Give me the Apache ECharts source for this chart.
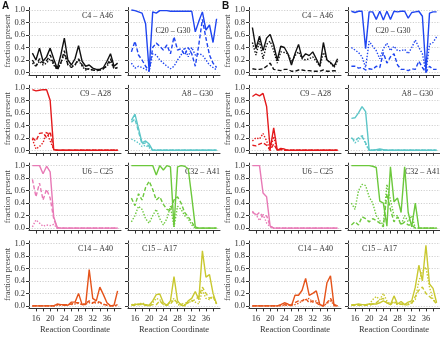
<!DOCTYPE html>
<html lang="en">
<head>
<meta charset="UTF-8">
<title>fraction present</title>
<script src="https://cdn.jsdelivr.net/npm/echarts@6/dist/echarts.min.js"></script>
<style>
  *{margin:0;padding:0;}
  body{background:#fff;}
  #chart{width:440px;height:337px;}
</style>
</head>
<body>
<div id="chart"></div>
<script>
// x positions (reaction coordinate) and tick values
var reactionCoord = [15,16,17,18,19,20,21,22,23,24,25,26,27,28,29,30,31,32,33,34,35,36,37,38,39];
var xTicks = [16,18,20,22,24,26,28,30,32,34,36,38];
var xTickLabels = [16,20,24,28,32,36];
var yTicks = [0,0.2,0.4,0.6,0.8,1.0];

var pairNames = ['C4 – A46','C20 – G30','C9 – A28','A8 – G30','U6 – C25','C32 – A41','C14 – A40','C15 – A17'];
var pairColors = ['#111111','#1f45f0','#e31a1c','#5dc6c8','#e87ab6','#6cc83c','#e5541b','#c9c830'];

// ---- panel A ----
var aC4A46Solid  = [0.31,0.20,0.39,0.18,0.25,0.39,0.22,0.06,0.28,0.55,0.20,0.12,0.22,0.43,0.18,0.10,0.12,0.07,0.05,0.05,0.08,0.18,0.30,0.10,0.15];
var aC4A46Dashed = [0.20,0.10,0.22,0.15,0.19,0.28,0.15,0.04,0.15,0.35,0.12,0.08,0.12,0.22,0.12,0.06,0.05,0.04,0.03,0.04,0.06,0.12,0.22,0.06,0.08];
var aC4A46Dotted = [0.15,0.10,0.18,0.12,0.15,0.22,0.12,0.05,0.15,0.30,0.12,0.10,0.12,0.20,0.10,0.04,0.06,0.04,0.03,0.04,0.06,0.10,0.18,0.06,0.08];

var aC20G30Solid  = [1.00,0.99,0.97,0.95,0.78,0.02,0.97,0.95,0.99,0.99,0.99,0.98,0.98,0.98,0.98,0.98,0.98,0.98,0.65,0.82,0.97,0.68,0.76,0.48,0.86];
var aC20G30Dashed = [0.33,0.50,0.28,0.20,0.10,0.02,0.40,0.47,0.42,0.36,0.44,0.30,0.57,0.36,0.38,0.28,0.40,0.30,0.10,0.45,0.85,0.55,0.28,0.15,0.08];
var aC20G30Dotted = [0.15,0.07,0.10,0.08,0.05,0.02,0.30,0.28,0.20,0.15,0.10,0.06,0.10,0.20,0.28,0.40,0.25,0.40,0.28,0.30,0.28,0.20,0.12,0.08,0.04];

var aC9A28Solid  = [0.97,0.95,0.96,0.97,0.97,0.80,0.01,0,0,0,0,0,0,0,0,0,0,0,0,0,0,0,0,0,0];
var aC9A28Dashed = [0.20,0.15,0.27,0.28,0.20,0.30,0.01,0,0,0,0,0,0,0,0,0,0,0,0,0,0,0,0,0,0];
var aC9A28Dotted = [0.18,0.02,0.06,0.12,0.30,0.15,0.01,0,0,0,0,0,0,0,0,0,0,0,0,0,0,0,0,0,0];

var aA8G30Solid  = [0.48,0.58,0.35,0.12,0.15,0.10,0,0,0,0,0,0,0,0,0,0,0,0,0,0,0,0,0,0,0];
var aA8G30Dashed = [0.45,0.50,0.30,0.10,0.12,0.06,0,0,0,0,0,0,0,0,0,0,0,0,0,0,0,0,0,0,0];
var aA8G30Dotted = [0.18,0.15,0.12,0.06,0.08,0.04,0,0,0,0,0,0,0,0,0,0,0,0,0,0,0,0,0,0,0];

var aU6C25Solid  = [1.00,1.00,1.00,0.87,0.99,0.90,0.18,0.01,0,0,0,0,0,0,0,0,0,0,0,0,0,0,0,0,0];
var aU6C25Dashed = [0.78,0.50,0.72,0.45,0.62,0.48,0.15,0,0,0,0,0,0,0,0,0,0,0,0,0,0,0,0,0,0];
var aU6C25Dotted = [0.02,0.13,0.08,0.03,0.05,0.04,0.06,0,0,0,0,0,0,0,0,0,0,0,0,0,0,0,0,0,0];

var aC32A41Solid  = [1,1,1,1,1,1,1,0.85,1.00,0.93,1.00,0.98,0.02,0.98,1.00,0.99,0.95,0.50,0.02,0,0,0,0,0,0];
var aC32A41Dashed = [0.48,0.36,0.55,0.45,0.65,0.75,0.62,0.45,0.50,0.38,0.30,0.28,0.45,0.50,0.40,0.25,0.18,0.10,0,0,0,0,0,0,0];
var aC32A41Dotted = [0.10,0.20,0.35,0.30,0.15,0.08,0.20,0.30,0.15,0.05,0.15,0.35,0.02,0.35,0.30,0.20,0.15,0.05,0,0,0,0,0,0,0];

var aC14A40Solid  = [0,0,0,0,0,0,0,0.03,0.02,0.02,0.01,0.06,0.06,0.20,0.02,0.02,0.58,0.12,0.08,0.30,0.18,0.05,0,0.01,0.24];
var aC14A40Dashed = [0,0,0,0,0,0,0,0.02,0.02,0.01,0.02,0.03,0.05,0.05,0.02,0.04,0.08,0.05,0.07,0.06,0.03,0.01,0,0,0.02];
var aC14A40Dotted = [0,0,0,0,0,0,0,0.01,0.01,0.01,0.02,0.02,0.03,0.04,0.02,0.03,0.05,0.04,0.05,0.05,0.02,0.01,0,0,0.01];

var aC15A17Solid  = [0.02,0.02,0.03,0.03,0.02,0.01,0.08,0.18,0.19,0.05,0.01,0.08,0.47,0.08,0.01,0,0.08,0.12,0.23,0.10,0.88,0.46,0.50,0.20,0.03];
var aC15A17Dashed = [0.01,0.01,0.02,0.02,0.01,0,0.02,0.02,0.08,0.02,0.01,0.03,0.10,0.05,0.02,0.05,0.05,0.08,0.10,0.15,0.30,0.20,0.12,0.15,0.03];
var aC15A17Dotted = [0.02,0.03,0.02,0.05,0.02,0,0.05,0.12,0.10,0.02,0.02,0.06,0.12,0.02,0.01,0.02,0.05,0.08,0.06,0.03,0.25,0.12,0.10,0.15,0.03];

// ---- panel B ----
var bC4A46Solid  = [0.72,0.38,0.58,0.35,0.55,0.61,0.44,0.20,0.42,0.40,0.30,0.12,0.30,0.45,0.23,0.30,0.27,0.33,0.22,0.10,0.48,0.20,0.16,0.10,0.22];
var bC4A46Dashed = [0.06,0.05,0.05,0.06,0.10,0.15,0.05,0.04,0.03,0.05,0.05,0.02,0.02,0.04,0.04,0.03,0.03,0.02,0.02,0.02,0.04,0.02,0.02,0.03,0.02];
var bC4A46Dotted = [0.48,0.28,0.50,0.22,0.45,0.50,0.35,0.15,0.33,0.32,0.30,0.17,0.27,0.33,0.22,0.20,0.22,0.25,0.18,0.10,0.32,0.20,0.15,0.08,0.18];

var bC20G30Solid  = [0.98,0.96,0.98,0.98,0.38,0.97,0.97,0.85,0.98,0.84,0.98,0.85,0.98,0.97,0.98,0.98,0.87,0.96,0.97,0.98,0.90,0.02,0.95,0.97,0.97];
var bC20G30Dashed = [0.10,0.10,0.07,0.08,0.04,0.06,0.05,0.10,0.08,0.32,0.15,0.25,0.30,0.12,0.05,0.05,0.03,0.06,0.05,0.18,0.08,0,0.10,0.05,0.05];
var bC20G30Dotted = [0.40,0.36,0.32,0.25,0.08,0.50,0.42,0.35,0.22,0.38,0.47,0.35,0.42,0.35,0.35,0.37,0.30,0.40,0.52,0.40,0.30,0,0.45,0.48,0.57];

var bC9A28Solid  = [0.86,0.90,0.87,0.91,0.70,0.02,0.36,0,0.03,0.02,0,0,0,0,0,0,0,0,0,0,0,0,0,0,0];
var bC9A28Dashed = [0.08,0.07,0.10,0.12,0.08,0,0.10,0,0.01,0,0,0,0,0,0,0,0,0,0,0,0,0,0,0,0];
var bC9A28Dotted = [0.15,0.20,0.18,0.27,0.15,0,0.22,0,0.02,0,0,0,0,0,0,0,0,0,0,0,0,0,0,0,0];

var bA8G30Solid  = [0.51,0.52,0.60,0.70,0.62,0,0,0.01,0.02,0.01,0,0,0,0,0,0,0,0,0,0,0,0,0,0,0];
var bA8G30Dashed = [0.20,0.15,0.20,0.22,0.12,0,0,0,0,0,0,0,0,0,0,0,0,0,0,0,0,0,0,0,0];
var bA8G30Dotted = [0.20,0.12,0.15,0.25,0.10,0,0,0,0,0,0,0,0,0,0,0,0,0,0,0,0,0,0,0,0];

var bU6C25Solid  = [1.00,1.00,1.00,0.56,0.50,0.03,0,0,0,0,0,0,0,0,0,0,0,0,0,0,0,0,0,0,0];
var bU6C25Dashed = [0.27,0.20,0.25,0.18,0.20,0.03,0,0,0,0,0,0,0,0,0,0,0,0,0,0,0,0,0,0,0];
var bU6C25Dotted = [0.25,0.22,0.12,0.22,0.08,0.02,0,0,0,0,0,0,0,0,0,0,0,0,0,0,0,0,0,0,0];

var bC32A41Solid  = [1,1,1,1,1,1,0.99,0.97,0.43,0.40,0.03,0.98,0.42,0.48,0.25,0.98,0.25,0.02,0.40,0,0,0,0,0,0];
var bC32A41Dashed = [0.05,0.10,0.05,0.18,0.15,0.10,0.15,0.12,0.08,0.02,0.55,0.30,0.10,0.18,0.05,0.10,0.05,0.05,0,0,0,0,0,0,0];
var bC32A41Dotted = [0.40,0.30,0.60,0.70,0.68,0.50,0.40,0.20,0.12,0.05,0.70,0.45,0.20,0.20,0.05,0.20,0.10,0.20,0,0,0,0,0,0,0];

var bC14A40Solid  = [0,0,0,0,0,0,0,0,0.02,0.05,0.03,0,0.17,0.17,0.25,0.44,0.17,0.20,0.24,0.02,0,0.37,0.48,0,0];
var bC14A40Dashed = [0,0,0,0,0,0,0,0,0.01,0.02,0.01,0.02,0.05,0.08,0.08,0.12,0.05,0.08,0.05,0.01,0,0.05,0.12,0.02,0];
var bC14A40Dotted = [0,0,0,0,0,0,0,0,0,0.01,0.01,0.01,0.02,0.04,0.08,0.10,0.12,0.06,0.08,0.02,0,0.04,0.08,0.02,0];

var bC15A17Solid  = [0.02,0.02,0.03,0.02,0.02,0.03,0.03,0.03,0.05,0.08,0.05,0.02,0.16,0.03,0.07,0.02,0.06,0.08,0.30,0.65,0.40,0.97,0.35,0.28,0.05];
var bC15A17Dashed = [0.01,0.01,0.01,0.01,0.01,0.01,0.03,0.05,0.10,0.12,0.05,0.02,0.08,0.02,0.03,0.01,0.02,0.04,0.15,0.25,0.30,0.20,0.15,0.10,0.03];
var bC15A17Dotted = [0.01,0.02,0.01,0.02,0.02,0.02,0.10,0.15,0.10,0.20,0.08,0.03,0.05,0.02,0.04,0.02,0.03,0.05,0.10,0.40,0.55,0.62,0.30,0.10,0.05];

var panelA = [
  [aC4A46Solid, aC4A46Dashed, aC4A46Dotted],
  [aC20G30Solid, aC20G30Dashed, aC20G30Dotted],
  [aC9A28Solid, aC9A28Dashed, aC9A28Dotted],
  [aA8G30Solid, aA8G30Dashed, aA8G30Dotted],
  [aU6C25Solid, aU6C25Dashed, aU6C25Dotted],
  [aC32A41Solid, aC32A41Dashed, aC32A41Dotted],
  [aC14A40Solid, aC14A40Dashed, aC14A40Dotted],
  [aC15A17Solid, aC15A17Dashed, aC15A17Dotted]
];
var panelB = [
  [bC4A46Solid, bC4A46Dashed, bC4A46Dotted],
  [bC20G30Solid, bC20G30Dashed, bC20G30Dotted],
  [bC9A28Solid, bC9A28Dashed, bC9A28Dotted],
  [bA8G30Solid, bA8G30Dashed, bA8G30Dotted],
  [bU6C25Solid, bU6C25Dashed, bU6C25Dotted],
  [bC32A41Solid, bC32A41Dashed, bC32A41Dotted],
  [bC14A40Solid, bC14A40Dashed, bC14A40Dotted],
  [bC15A17Solid, bC15A17Dashed, bC15A17Dotted]
];

// layout
var SERIF = '"Liberation Serif", "DejaVu Serif", serif';
var colLeft = [29, 128];
var panelShift = 220;
var gridW = 92, gridH = 67.5;
var rowTop0 = 7.5, rowPitch = 77.8;
// where the pair label sits inside each small plot
var labelPos = [
  {dx: 84, dy: 8.5, align: 'right'},
  {dx: 45, dy: 23.5, align: 'center'},
  {dx: 82, dy: 8.5, align: 'right'},
  {dx: 85, dy: 8.5, align: 'right'},
  {dx: 84, dy: 8.5, align: 'right'},
  {dx: 92, dy: 8.5, align: 'right'},
  {dx: 84, dy: 8.5, align: 'right'},
  {dx: 14, dy: 8.5, align: 'left'}
];
var lineTypes = ['solid', [4, 2.2], [1.4, 1.6]];

var grids = [], xAxes = [], yAxes = [], series = [], graphics = [];

function toPairs(ys) {
  return reactionCoord.map(function (x, i) { return [x, ys[i]]; });
}

[panelA, panelB].forEach(function (panel, p) {
  panel.forEach(function (sets, k) {
    var col = k % 2, row = Math.floor(k / 2);
    var gl = colLeft[col] + p * panelShift;
    var gt = rowTop0 + row * rowPitch;
    var gi = grids.length;
    grids.push({left: gl, top: gt, width: gridW, height: gridH});
    xAxes.push({
      gridIndex: gi, type: 'value', min: 14.04, max: 39.96,
      axisLine: {show: true, onZero: false, lineStyle: {color: '#333', width: 1}},
      axisTick: {show: true, length: 3, customValues: xTicks, lineStyle: {color: '#333'}},
      axisLabel: {show: row === 3, customValues: xTickLabels, margin: 6,
        fontFamily: SERIF, fontSize: 8.5, color: '#333'},
      splitLine: {show: false}
    });
    yAxes.push({
      gridIndex: gi, type: 'value', min: -0.04, max: 1.04,
      axisLine: {show: true, onZero: false, lineStyle: {color: '#333', width: 1}},
      axisTick: {show: true, length: 3, customValues: yTicks, lineStyle: {color: '#333'}},
      axisLabel: {show: col === 0, customValues: yTicks, margin: 4,
        fontFamily: SERIF, fontSize: 8.5, color: '#333',
        formatter: function (v) { return v.toFixed(1); }},
      splitLine: {show: false}
    });
    // draw dotted first, then dashed, then solid on top
    [2, 1, 0].forEach(function (s, order) {
      var ser = {
        type: 'line', xAxisIndex: gi, yAxisIndex: gi,
        data: toPairs(sets[s]), symbol: 'none', silent: true,
        lineStyle: {color: pairColors[k], width: 1.4, type: lineTypes[s]},
        animation: false
      };
      if (order === 0) {
        ser.markLine = {
          silent: true, symbol: ['none', 'none'], z: 1, animation: false,
          label: {show: false},
          lineStyle: {color: '#c4c4c4', type: [1.2, 1.5], width: 0.8},
          data: yTicks.map(function (v) { return {yAxis: v}; })
        };
      }
      series.push(ser);
    });
    var lp = labelPos[k];
    graphics.push({
      type: 'text', x: gl + lp.dx, y: gt + lp.dy, silent: true,
      style: {text: pairNames[k], font: '8px ' + SERIF, fill: '#333',
        align: lp.align, textAlign: lp.align, verticalAlign: 'middle', textVerticalAlign: 'middle'}
    });
    if (col === 0) {
      graphics.push({
        type: 'text', x: p * panelShift + 8, y: gt + 33.5, rotation: Math.PI / 2, silent: true,
        style: {text: 'fraction present', font: '8.5px ' + SERIF, fill: '#444',
          align: 'center', textAlign: 'center', verticalAlign: 'middle', textVerticalAlign: 'middle'}
      });
    }
    if (row === 3) {
      graphics.push({
        type: 'text', x: gl + gridW / 2, y: 330, silent: true,
        style: {text: 'Reaction Coordinate', font: '8.5px ' + SERIF, fill: '#333',
          align: 'center', textAlign: 'center', verticalAlign: 'middle', textVerticalAlign: 'middle'}
      });
    }
  });
  graphics.push({
    type: 'text', x: p * panelShift + 2, y: 1, silent: true,
    style: {text: p === 0 ? 'A' : 'B', font: 'bold 10px "Liberation Sans", Arial, sans-serif', fill: '#111',
      align: 'left', textAlign: 'left', verticalAlign: 'top', textVerticalAlign: 'top'}
  });
});

var myChart = echarts.init(document.getElementById('chart'), null, {renderer: 'canvas'});
myChart.setOption({
  animation: false,
  backgroundColor: '#fff',
  grid: grids,
  xAxis: xAxes,
  yAxis: yAxes,
  series: series,
  graphic: graphics
});
</script>
</body>
</html>
